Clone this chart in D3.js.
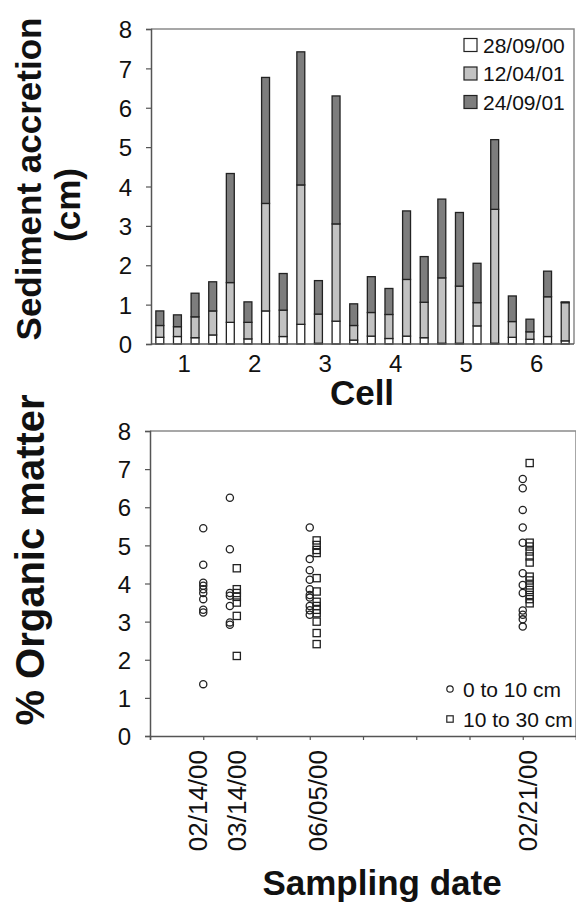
<!DOCTYPE html>
<html>
<head>
<meta charset="utf-8">
<script src="https://cdn.jsdelivr.net/npm/d3@7"></script>
<style>
  body { margin: 0; background: #fff; }
  svg text { font-family: "Liberation Sans", Arial, sans-serif; fill: #111; }
</style>
</head>
<body>
<div id="chart"></div>
<script>
// ---- top panel data: sediment accretion per bar (segment values, cm) ----
const cells = ["1", "2", "3", "4", "5", "6"];
const seriesNames = ["28/09/00", "12/04/01", "24/09/01"];
const acc280900 = [0.17, 0.19, 0.16, 0.23, 0.55, 0.13, 0.84, 0.19, 0.50, 0.02, 0.58, 0.10,
                   0.20, 0.14, 0.20, 0.16, 0.02, 0.02, 0.46, 0.02, 0.17, 0.12, 0.19, 0.08];
const acc120401 = [0.30, 0.25, 0.53, 0.61, 1.01, 0.42, 2.73, 0.67, 3.54, 0.74, 2.47, 0.37,
                   0.60, 0.61, 1.44, 0.90, 1.66, 1.45, 0.59, 3.40, 0.40, 0.19, 1.01, 0.97];
const acc240901 = [0.37, 0.30, 0.60, 0.74, 2.77, 0.52, 3.20, 0.93, 3.38, 0.85, 3.25, 0.55,
                   0.91, 0.66, 1.74, 1.16, 2.00, 1.87, 1.00, 1.77, 0.65, 0.32, 0.65, 0.02];
const barsPerCell = 4;
const yTicks = [0, 1, 2, 3, 4, 5, 6, 7, 8];

// ---- bottom panel data: % organic matter ----
const dateLabels = ["02/14/00", "03/14/00", "06/05/00", "02/21/00"];
const datePos = [1, 1.5, 3, 7];          // where each sampling is plotted
const labelPos = [0.9, 1.63, 3.15, 7.08]; // where its date label sits
const depthNames = ["0 to 10 cm", "10 to 30 cm"];
const om0to10 = [
  [5.45, 4.49, 4.02, 3.94, 3.85, 3.75, 3.59, 3.31, 3.24, 1.36],
  [6.25, 4.90, 3.75, 3.68, 3.41, 2.98, 2.92],
  [5.47, 4.64, 4.35, 4.10, 3.85, 3.70, 3.63, 3.41, 3.30, 3.18],
  [6.74, 6.50, 5.93, 5.47, 5.07, 4.27, 3.96, 3.75, 3.29, 3.18, 3.06, 2.87]
];
const om10to30 = [
  [],
  [4.40, 3.85, 3.75, 3.65, 3.50, 3.15, 2.10],
  [5.13, 5.01, 4.88, 4.80, 4.14, 3.79, 3.52, 3.41, 3.31, 3.22, 3.00, 2.70, 2.41],
  [7.16, 5.07, 4.97, 4.84, 4.71, 4.55, 4.18, 4.08, 3.95, 3.83, 3.70, 3.59, 3.48]
];
const sampleTicks = [0, 1, 2, 3, 4, 5, 6, 7, 8];

const width = 576;
const height = 903;

const FILLS = ["#ffffff", "#c2c2c2", "#7d7d7d"];
const OUTLINE = "#222";
const AXIS_COLOR = "#555";
const FRAME_COLOR = "#8a8a8a";

const svg = d3.select("#chart").append("svg")
  .attr("width", width)
  .attr("height", height);

// =========== TOP PANEL =========== //
const topBox = { left: 151, right: 574, top: 29, bottom: 344 };

const barIdx = d3.range(acc280900.length);
const xBar = d3.scaleBand()
  .domain(barIdx)
  .range([topBox.left, topBox.right])
  .paddingInner(0.55)
  .paddingOuter(0.275);

const yAcc = d3.scaleLinear().domain([0, 8]).range([topBox.bottom, topBox.top]);

const stackRows = barIdx.map(i => ({
  i: i,
  [seriesNames[0]]: acc280900[i],
  [seriesNames[1]]: acc120401[i],
  [seriesNames[2]]: acc240901[i]
}));
const stacked = d3.stack().keys(seriesNames)(stackRows);

// frame: top and right
svg.append("path")
  .attr("d", `M${topBox.left},${topBox.top}H${topBox.right}V${topBox.bottom}`)
  .attr("fill", "none")
  .attr("stroke", FRAME_COLOR)
  .attr("stroke-width", 1.5);

svg.append("g")
  .selectAll("g")
  .data(stacked)
  .enter()
  .append("g")
  .attr("fill", (d, k) => FILLS[k])
  .selectAll("rect")
  .data(d => d)
  .enter()
  .append("rect")
  .attr("x", d => xBar(d.data.i))
  .attr("width", xBar.bandwidth())
  .attr("y", d => yAcc(d[1]))
  .attr("height", d => yAcc(d[0]) - yAcc(d[1]))
  .attr("stroke", OUTLINE)
  .attr("stroke-width", 1.3);

// y axis
const yAxisTop = svg.append("g")
  .attr("transform", `translate(${topBox.left},0)`)
  .call(d3.axisLeft(yAcc).tickValues(yTicks).tickFormat(d3.format("d")).tickSize(5).tickPadding(14));
yAxisTop.select(".domain").attr("stroke", AXIS_COLOR).attr("stroke-width", 1.5);
yAxisTop.selectAll(".tick line").attr("stroke", AXIS_COLOR).attr("stroke-width", 1.2);
yAxisTop.selectAll("text").style("font-size", "24px").attr("fill", "#111").attr("dy", "0.36em");

// x baseline
svg.append("line")
  .attr("x1", topBox.left).attr("x2", topBox.right)
  .attr("y1", topBox.bottom).attr("y2", topBox.bottom)
  .attr("stroke", AXIS_COLOR).attr("stroke-width", 1.5);

// cell labels, centred between bars 2 and 3 of each group
svg.append("g")
  .selectAll("text")
  .data(cells)
  .enter()
  .append("text")
  .attr("x", (d, k) => (xBar(k * barsPerCell + 1) + xBar(k * barsPerCell + 2) + xBar.bandwidth()) / 2 - 2)
  .attr("y", 372)
  .attr("text-anchor", "middle")
  .style("font-size", "24px")
  .text(d => d);

svg.append("text")
  .attr("x", 362)
  .attr("y", 405)
  .attr("text-anchor", "middle")
  .style("font-size", "35px")
  .style("font-weight", "bold")
  .text("Cell");

svg.append("text")
  .attr("transform", "translate(41,179) rotate(-90)")
  .attr("text-anchor", "middle")
  .style("font-size", "35px")
  .style("font-weight", "bold")
  .text("Sediment accretion");

svg.append("text")
  .attr("transform", "translate(80,205) rotate(-90)")
  .attr("text-anchor", "middle")
  .style("font-size", "35px")
  .style("font-weight", "bold")
  .text("(cm)");

// legend
const legTop = svg.append("g");
seriesNames.forEach((name, k) => {
  const cy = 45 + k * 28.5;
  legTop.append("rect")
    .attr("x", 464).attr("y", cy - 6.5)
    .attr("width", 13).attr("height", 13)
    .attr("fill", FILLS[k])
    .attr("stroke", OUTLINE).attr("stroke-width", 1.2);
  legTop.append("text")
    .attr("x", 483).attr("y", cy)
    .attr("dy", "0.36em")
    .style("font-size", "21px")
    .text(name);
});

// =========== BOTTOM PANEL =========== //
const botBox = { left: 150, right: 576, top: 431, bottom: 736 };

const xSample = d3.scaleLinear().domain([0, 8]).range([botBox.left, botBox.right]);
const yOm = d3.scaleLinear().domain([0, 8]).range([botBox.bottom, botBox.top]);
const SQUARE_SHIFT = 0.13; // deeper layer plotted just right of the shallow one

svg.append("path")
  .attr("d", `M${botBox.left},${botBox.top}H${botBox.right}V${botBox.bottom}`)
  .attr("fill", "none")
  .attr("stroke", FRAME_COLOR)
  .attr("stroke-width", 1.5);

const yAxisBot = svg.append("g")
  .attr("transform", `translate(${botBox.left},0)`)
  .call(d3.axisLeft(yOm).tickValues(yTicks).tickFormat(d3.format("d")).tickSize(5).tickPadding(14));
yAxisBot.select(".domain").attr("stroke", AXIS_COLOR).attr("stroke-width", 1.5);
yAxisBot.selectAll(".tick line").attr("stroke", AXIS_COLOR).attr("stroke-width", 1.2);
yAxisBot.selectAll("text").style("font-size", "24px").attr("fill", "#111").attr("dy", "0.36em");

const xAxisBot = svg.append("g")
  .attr("transform", `translate(0,${botBox.bottom})`)
  .call(d3.axisBottom(xSample).tickValues(sampleTicks).tickFormat("").tickSize(4));
xAxisBot.select(".domain").attr("stroke", AXIS_COLOR).attr("stroke-width", 1.5);
xAxisBot.selectAll(".tick line").attr("stroke", AXIS_COLOR).attr("stroke-width", 1.2);

// rotated date labels
svg.append("g")
  .selectAll("text")
  .data(dateLabels)
  .enter()
  .append("text")
  .attr("transform", (d, k) => `translate(${xSample(labelPos[k]) + 9.5},750) rotate(-90)`)
  .attr("text-anchor", "end")
  .style("font-size", "26px")
  .text(d => d);

// points
const circlePts = om0to10.flatMap((vals, k) => vals.map(v => ({ x: datePos[k], y: v })));
const squarePts = om10to30.flatMap((vals, k) => vals.map(v => ({ x: datePos[k] + SQUARE_SHIFT, y: v })));

svg.append("g")
  .selectAll("circle")
  .data(circlePts)
  .enter()
  .append("circle")
  .attr("cx", d => xSample(d.x))
  .attr("cy", d => yOm(d.y))
  .attr("r", 3.6)
  .attr("fill", "none")
  .attr("stroke", OUTLINE)
  .attr("stroke-width", 1.3);

svg.append("g")
  .selectAll("rect")
  .data(squarePts)
  .enter()
  .append("rect")
  .attr("x", d => xSample(d.x) - 3.6)
  .attr("y", d => yOm(d.y) - 3.6)
  .attr("width", 7.2)
  .attr("height", 7.2)
  .attr("fill", "none")
  .attr("stroke", OUTLINE)
  .attr("stroke-width", 1.3);

// legend
const legBot = svg.append("g");
depthNames.forEach((name, k) => {
  const cy = 689 + k * 30;
  if (k === 0) {
    legBot.append("circle").attr("cx", 450).attr("cy", cy).attr("r", 3.2)
      .attr("fill", "none").attr("stroke", OUTLINE).attr("stroke-width", 1.2);
  } else {
    legBot.append("rect").attr("x", 446.8).attr("y", cy - 3.2).attr("width", 6.4).attr("height", 6.4)
      .attr("fill", "none").attr("stroke", OUTLINE).attr("stroke-width", 1.2);
  }
  legBot.append("text")
    .attr("x", 463).attr("y", cy)
    .attr("dy", "0.36em")
    .style("font-size", "21px")
    .text(name);
});

svg.append("text")
  .attr("x", 382)
  .attr("y", 895)
  .attr("text-anchor", "middle")
  .style("font-size", "35px")
  .style("font-weight", "bold")
  .text("Sampling date");

svg.append("text")
  .attr("transform", "translate(44,560) rotate(-90)")
  .attr("text-anchor", "middle")
  .style("font-size", "40px")
  .style("font-weight", "bold")
  .text("% Organic matter");
</script>
</body>
</html>
